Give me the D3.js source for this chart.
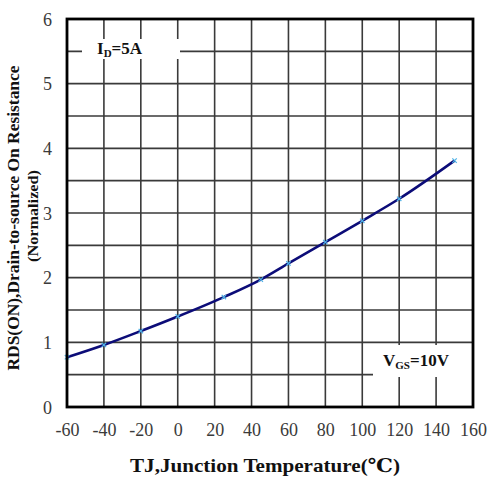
<!DOCTYPE html>
<html><head><meta charset="utf-8">
<script src="https://cdn.jsdelivr.net/npm/d3@7/dist/d3.min.js"></script>
<style>body{margin:0;background:#fff}svg{display:block}</style>
</head><body><svg id="c" width="490" height="477"></svg>
<script>
const temps = [-60, -40, -20, 0, 25, 45, 60, 80, 100, 120, 150];
const rdsNorm = [0.77, 0.96, 1.175, 1.40, 1.70, 1.97, 2.22, 2.55, 2.88, 3.22, 3.81];
const xTicks = [-60, -40, -20, 0, 20, 40, 60, 80, 100, 120, 140, 160];
const yTicks = [0, 1, 2, 3, 4, 5, 6];
const yGrid = [0.5, 1, 1.5, 2, 2.5, 3, 3.5, 4, 4.5, 5, 5.5];

const svg = d3.select("#c");
const L = 67, R = 473, T = 19, B = 407;
const x = d3.scaleLinear().domain([-60, 160]).range([L, R]);
const y = d3.scaleLinear().domain([0, 6]).range([B, T]);
const serif = "'Liberation Serif', 'DejaVu Serif', serif";

// grid
const g = svg.append("g");
g.selectAll("line.v").data(xTicks.slice(1, -1)).join("line")
  .attr("x1", d => x(d)).attr("x2", d => x(d)).attr("y1", T).attr("y2", B)
  .attr("stroke", "#3a3a3a").attr("stroke-width", 1.6);
g.selectAll("line.h").data(yGrid).join("line")
  .attr("x1", L).attr("x2", R).attr("y1", d => y(d)).attr("y2", d => y(d))
  .attr("stroke", "#3a3a3a").attr("stroke-width", 1.6);

// label boxes
svg.append("rect").attr("x", 82).attr("y", 39).attr("width", 98).attr("height", 20).attr("fill", "#fff");
svg.append("rect").attr("x", 373).attr("y", 345).attr("width", 100).attr("height", 32).attr("fill", "#fff");

// curve
const line = d3.line().x((d, i) => x(temps[i])).y(d => y(d)).curve(d3.curveMonotoneX);
svg.append("path").datum(rdsNorm).attr("d", line).attr("fill", "none")
  .attr("stroke", "#0c0c78").attr("stroke-width", 2.6);
// markers
const mk = svg.append("g");
rdsNorm.forEach((v, i) => {
  const cx = x(temps[i]), cy = y(v), s = 2.2;
  mk.append("path").attr("d", `M${cx - s},${cy - s}L${cx + s},${cy + s}M${cx - s},${cy + s}L${cx + s},${cy - s}`)
    .attr("stroke", "#4fb2e6").attr("stroke-width", 1.2);
});

// border
svg.append("rect").attr("x", L).attr("y", T).attr("width", R - L).attr("height", B - T)
  .attr("fill", "none").attr("stroke", "#000").attr("stroke-width", 2.8);

// axes ticks labels
const xAxis = d3.axisBottom(x).tickValues(xTicks).tickSize(0).tickPadding(0).tickFormat(d => d < 0 ? "-" + Math.abs(d) : String(d));
const xg = svg.append("g").attr("transform", `translate(0,${B})`).call(xAxis);
xg.select(".domain").remove();
xg.selectAll("text").attr("y", 29).attr("dy", 0).attr("font-family", serif).attr("font-size", 18).attr("fill", "#3a3a3a");

const yAxis = d3.axisLeft(y).tickValues(yTicks).tickSize(0).tickPadding(0).tickFormat(d3.format("d"));
const yg = svg.append("g").attr("transform", `translate(52,0)`).call(yAxis);
yg.select(".domain").remove();
yg.selectAll("text").attr("x", 0).attr("dy", "0.35em").attr("font-family", serif).attr("font-size", 18).attr("fill", "#3a3a3a");

// annotations
const t1 = svg.append("text").attr("x", 97).attr("y", 54).attr("font-family", serif).attr("font-weight", "bold").attr("font-size", 17).attr("fill", "#111");
t1.append("tspan").text("I");
t1.append("tspan").attr("font-size", 11).attr("dy", 3).text("D");
t1.append("tspan").attr("dy", -3).text("=5A");

const t2 = svg.append("text").attr("x", 383).attr("y", 366).attr("font-family", serif).attr("font-weight", "bold").attr("font-size", 17).attr("fill", "#111");
t2.append("tspan").text("V");
t2.append("tspan").attr("font-size", 11).attr("dy", 3).text("GS");
t2.append("tspan").attr("dy", -3).text("=10V");

// axis titles
svg.append("text").attr("x", 265).attr("y", 472).attr("text-anchor", "middle")
  .attr("font-family", serif).attr("font-weight", "bold").attr("font-size", 19).attr("fill", "#111")
  .attr("textLength", 270).attr("lengthAdjust", "spacingAndGlyphs")
  .text("TJ,Junction Temperature(℃)");

svg.append("text").attr("transform", "translate(19,218) rotate(-90)").attr("text-anchor", "middle")
  .attr("font-family", serif).attr("font-weight", "bold").attr("font-size", 16).attr("fill", "#111")
  .attr("textLength", 305).attr("lengthAdjust", "spacingAndGlyphs")
  .text("RDS(ON),Drain-to-source On Resistance");
svg.append("text").attr("transform", "translate(38,216) rotate(-90)").attr("text-anchor", "middle")
  .attr("font-family", serif).attr("font-weight", "bold").attr("font-size", 14).attr("fill", "#111")
  .attr("textLength", 92).attr("lengthAdjust", "spacingAndGlyphs")
  .text("(Normalized)");
</script></body></html>
